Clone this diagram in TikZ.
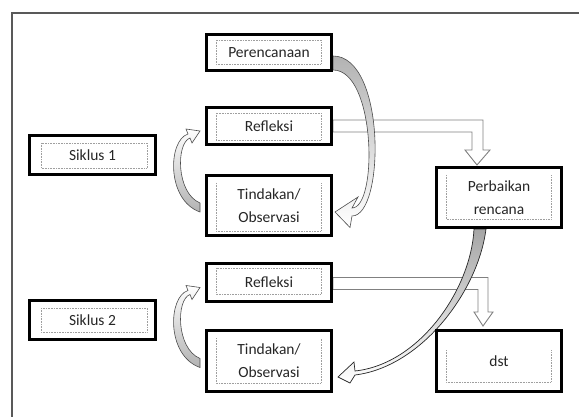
\documentclass[tikz,border=0pt]{standalone}
\usepackage{fontspec}
\setmainfont{Carlito}
\usetikzlibrary{calc,backgrounds}
\begin{document}
\begin{tikzpicture}[x=1pt,y=-1pt,
  box/.style={draw=black, line width=2.8pt, minimum width=125.2pt, text=black!85,
    align=center, font=\fontsize{15.5}{23}\selectfont, inner sep=0pt},
  innerdot/.style={draw=gray!75, densely dotted, line width=0.6pt},
  blockarrow/.style={fill=white, draw=black!50, line width=0.9pt},
  bandgray/.style={top color=gray!60, bottom color=white, draw=gray!60!black, line width=0.6pt},
  bandblack/.style={top color=gray!70, bottom color=white, draw=black!85, line width=0.7pt},
  cyc/.style={top color=white, bottom color=gray!60, draw=gray!60!black, line width=0.6pt}]
\useasboundingbox (0,0) rectangle (579,417);

% boxes
\node[box, minimum height=36.2pt] (per) at (269,52.5) {Perencanaan};
\node[box, minimum height=37.2pt] (ref1) at (269,126) {Refleksi};
\node[box, minimum height=60.2pt] (tin1) at (269,205.5) {Tindakan/\\Observasi};
\node[box, minimum width=126.2pt, minimum height=39.2pt] (sik1) at (92.5,155) {Siklus 1};
\node[box, minimum height=60.2pt] (perb) at (499,197.5) {Perbaikan\\rencana};
\node[box, minimum height=38.2pt] (ref2) at (269,282.5) {Refleksi};
\node[box, minimum height=61.2pt] (tin2) at (269,361) {Tindakan/\\Observasi};
\node[box, minimum width=126.2pt, minimum height=39.2pt] (sik2) at (92.5,320) {Siklus 2};
\node[box, minimum height=61.2pt] (dst) at (499,361) {dst};

% inner dotted frames
\draw[innerdot] ($(per.north west)+(11,7)$) rectangle ($(per.south east)+(-12,-8)$);
\draw[innerdot] ($(ref1.north west)+(11,7)$) rectangle ($(ref1.south east)+(-12,-6)$);
\draw[innerdot] ($(ref2.north west)+(11,6)$) rectangle ($(ref2.south east)+(-12,-9)$);
\draw[innerdot] ($(sik1.north west)+(13,9)$) rectangle ($(sik1.south east)+(-10,-8)$);
\draw[innerdot] ($(sik2.north west)+(13,9)$) rectangle ($(sik2.south east)+(-10,-9)$);
\draw[innerdot] ($(tin1.north west)+(11,9)$) |- ($(tin1.south east)+(-12,-6)$) -- ($(tin1.north east)+(-12,9)$);
\draw[innerdot] ($(tin2.north west)+(11,9)$) |- ($(tin2.south east)+(-12,-10)$) -- ($(tin2.north east)+(-12,9)$);
\draw[innerdot] ($(perb.north west)+(11,9)$) |- ($(perb.south east)+(-12,-10)$) -- ($(perb.north east)+(-12,9)$);
\draw[innerdot] ($(dst.north west)+(11,21)$) |- ($(dst.south east)+(-12,-11)$) -- ($(dst.north east)+(-12,21)$);

\begin{pgfonlayer}{background}
% outer frame
\draw[line width=1.5pt, black!65] (12,425) -- (12,13) -- (590,13);

% block arrow Refleksi 1 -> Perbaikan rencana
\draw[blockarrow] ($(ref1.east)+(0,-6)$) -| ($(perb.north)+(-16,-16)$) -- ++(7,0)
  -- ($(perb.north)+(-22,-1)$) -- ($(perb.north)+(-34,-16)$) -- ++(7,0)
  |- ($(ref1.east)+(0,6)$) -- cycle;

% block arrow Refleksi 2 -> dst
\draw[blockarrow] ($(ref2.east)+(0,-5)$) -| ($(dst.north)+(-11,-17)$) -- ++(5,0)
  -- ($(dst.north)+(-16,-3)$) -- ($(dst.north)+(-25,-17)$) -- ++(4,0)
  |- ($(ref2.east)+(0,7)$) -- cycle;

% curved arrow Perencanaan -> Tindakan 1
\shade[bandgray]
  ($(per.east)+(0,3.5)$) .. controls +(53,0) and +(33,0) .. ($(tin1.east)+(19,10.5)$)
  -- ($(tin1.east)+(17,22)$) -- ($(tin1.east)+(2,6.5)$) -- ($(tin1.east)+(25,-8.5)$)
  -- ($(tin1.east)+(19,2.5)$)
  .. controls +(26,0) and +(43,0) .. ($(per.east)+(0,17.5)$) -- cycle;

% curved arrow Perbaikan rencana -> Tindakan 2
\shade[bandblack]
  ($(perb.south)+(-13,0)$) .. controls +(-8,63) and +(66,-8) .. ($(tin2.east)+(22,14)$)
  -- ($(tin2.east)+(17,22)$) -- ($(tin2.east)+(5,16)$) -- ($(tin2.east)+(21,1)$)
  -- ($(tin2.east)+(22,10)$)
  .. controls +(65,-7) and +(-3,60) .. ($(perb.south)+(-25,0)$) -- cycle;

% cycle arrows Tindakan -> Refleksi
\foreach \r/\t in {ref1/tin1, ref2/tin2}{
\shade[cyc]
  ($(\t.west)+(-5,6.5)$) .. controls +(-34,-12) and +(-20,6) .. ($(\r.west)+(-17,8)$)
  -- ($(\r.west)+(-19,3)$) -- ($(\r.west)+(-5,5)$) -- ($(\r.west)+(-13,17)$)
  -- ($(\r.west)+(-15,12)$)
  .. controls +(-14,5) and +(-24,-10) .. ($(\t.west)+(-5,-2.5)$) -- cycle;
}
\end{pgfonlayer}
\end{tikzpicture}
\end{document}
